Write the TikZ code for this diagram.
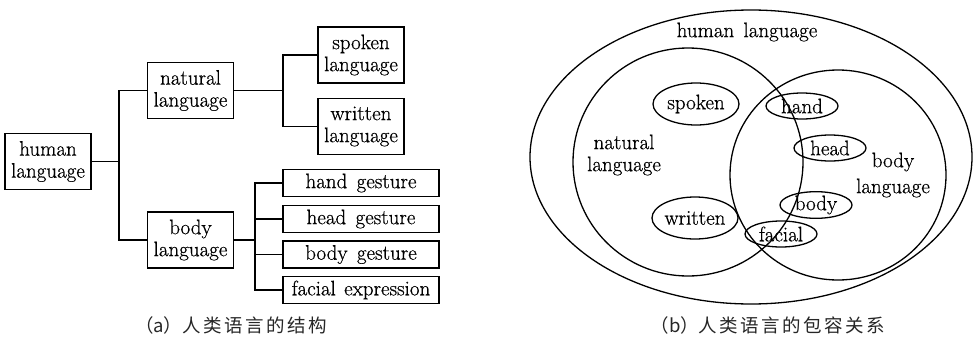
\documentclass[tikz,border=0pt]{standalone}
\usepackage{fontspec}
\newfontfamily\ser{Latin Modern Roman}[FakeBold=0.6]
\newfontfamily\cjk{Noto Sans CJK SC}
\usetikzlibrary{shapes.geometric}
\newcommand{\cjs}{\hspace{2.5pt}}
\begin{document}
\begin{tikzpicture}[x=1pt,y=-1pt,
  every node/.style={font=\ser\fontsize{21}{22}\selectfont, inner sep=0pt, align=center},
  box/.style={draw, line width=1.25pt, minimum width=#1},
  twoline/.style={box=86, minimum height=56},
  oneline/.style={box=156, minimum height=27},
  link/.style={line width=1.25pt},
  oval/.style={draw, ellipse, line width=1.3pt, minimum width=#1, minimum height=26},
  big/.style={line width=1.3pt},
  captext/.style={font=\cjk\fontsize{18.5}{20}\selectfont, text=black!85}
]
\useasboundingbox (0,0) rectangle (976,340);
% ---------- (a) tree ----------
\node[twoline] (hl) at (48,161.5) {human\\language};
\node[twoline] (nl) at (190.5,90.5) {natural\\language};
\node[twoline] (bl) at (190.5,240) {body\\language};
\node[twoline] (sl) at (361,55) {spoken\\language};
\node[twoline] (wl) at (361,126.5) {written\\language};
\node[oneline] (hg) at (361,183) {hand\hspace{3pt} gesture};
\node[oneline] (hdg) at (361,219) {head\hspace{3pt} gesture};
\node[oneline] (bg) at (361,254.5) {body\hspace{3pt} gesture};
\node[oneline] (fe) at (361,290) {facial\hspace{2pt} expression};
\coordinate (j1) at (119,0);
\coordinate (j2) at (283,0);
\coordinate (j3) at (255,0);
\draw[link] (hl.east) -- (hl.east -| j1);
\draw[link] (nl.west) -- (nl.west -| j1) -- (bl.west -| j1) -- (bl.west);
\draw[link] (nl.east) -- (nl.east -| j2);
\draw[link] (sl.west) -- (sl.west -| j2) -- (wl.west -| j2) -- (wl.west);
\draw[link] (bl.east) -- (bl.east -| j3);
\draw[link] (hg.west) -- (hg.west -| j3) -- (fe.west -| j3) -- (fe.west);
\draw[link] (hdg.west) -- (hdg.west -| j3);
\draw[link] (bg.west) -- (bg.west -| j3);
\node[captext] (capa) at (231,325) {（a）人\cjs 类\cjs 语\cjs 言\cjs 的\cjs 结\cjs 构};
% ---------- (b) Venn ----------
\draw[big] (751,157) ellipse [x radius=221, y radius=147];
\draw[big] (688,162) ellipse [x radius=115, y radius=114];
\draw[big] (838,175) ellipse [x radius=108, y radius=105];
\node (hlab) at (747,32) {human\hspace{3pt} language};
\node (nlab) at (624,155) {natural\\language};
\node (blab) at (893,175) {body\\[4pt]language};
\node[oval=86, minimum height=42] (sp) at (696,104) {spoken};
\node[oval=86, minimum height=42] (wr) at (695,218) {written};
\node[oval=72] (ha) at (802,106) {hand};
\node[oval=72] (he) at (830,148) {head};
\node[oval=72] (bo) at (816,205) {body};
\node[oval=72] (fa) at (781,234) {facial};
\node[captext] (capb) at (768,325) {（b）人\cjs 类\cjs 语\cjs 言\cjs 的\cjs 包\cjs 容\cjs 关\cjs 系};
\end{tikzpicture}
\end{document}
